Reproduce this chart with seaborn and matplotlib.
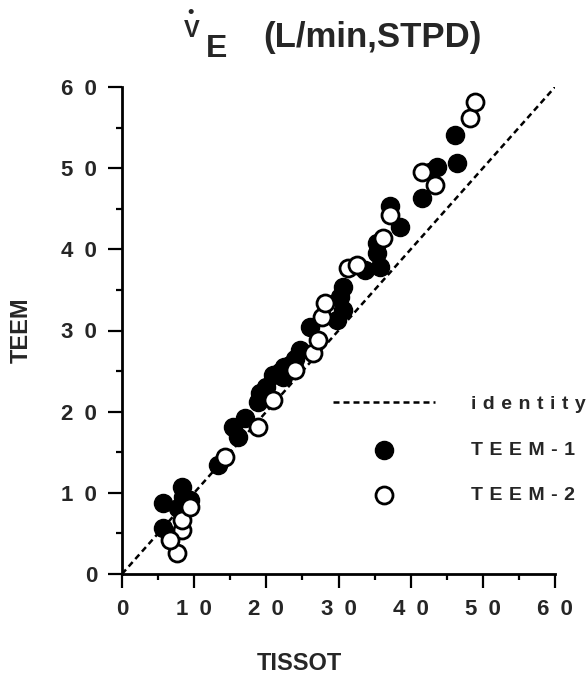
import matplotlib
matplotlib.use("Agg")
import matplotlib.pyplot as plt
import seaborn as sns
import pandas as pd

# values (L/min, STPD)
teem1_x = [5.7, 8.3, 9.4, 7.8, 5.7, 8.5, 13.3, 15.4, 17.0, 16.1, 19.1, 18.8, 20.0,
           20.9, 22.3, 23.3, 21.9, 22.5, 24.0, 24.7, 26.0, 30.6, 30.2, 30.6, 29.8,
           33.7, 35.3, 35.3, 35.7, 37.1, 38.5, 41.6, 42.7, 43.6, 46.1, 46.4]
teem1_y = [8.7, 10.7, 9.1, 8.1, 5.7, 9.5, 13.4, 18.1, 19.2, 16.9, 22.3, 21.2, 23.0,
           24.5, 24.3, 25.7, 24.9, 25.5, 26.5, 27.6, 30.4, 35.3, 34.1, 32.5, 31.3,
           37.4, 40.8, 39.5, 37.8, 45.4, 42.7, 46.3, 49.5, 50.1, 54.1, 50.6]

teem2_x = [7.6, 8.3, 8.3, 9.4, 6.6, 14.3, 18.8, 20.9, 24.0, 26.5, 27.1, 27.7, 28.1,
           31.3, 32.5, 36.1, 37.1, 41.6, 43.4, 48.2, 48.9]
teem2_y = [2.6, 5.4, 6.6, 8.3, 4.2, 14.4, 18.1, 21.4, 25.1, 27.2, 28.8, 31.7, 33.4,
           37.7, 38.1, 41.4, 44.2, 49.5, 47.9, 56.2, 58.1]

identity = [0, 60]
ticks = [0, 10, 20, 30, 40, 50, 60]
SP = "\u2002"   # letter spacing of the tick numbers
SP_LEG = "\u2004"  # tighter spacing for legend labels
tick_labels = [SP.join(str(t)) for t in ticks]

sns.set_theme(style="ticks")
plt.rcParams["font.family"] = ["Liberation Sans", "DejaVu Sans"]

fig = plt.figure(figsize=(5.86, 6.88), dpi=100)
ax = fig.add_axes([122 / 586, 114 / 688, 433 / 586, 487 / 688])

df1 = pd.DataFrame({"x": teem1_x, "y": teem1_y})
df2 = pd.DataFrame({"x": teem2_x, "y": teem2_y})

sns.lineplot(x=identity, y=identity, ax=ax, color="black", lw=1.8,
             linestyle=(0, (2.4, 1.6)), label="identity")
sns.scatterplot(data=df1, x="x", y="y", ax=ax, s=170, color="black",
                edgecolor="black", linewidth=1, label="TEEM-1", clip_on=False, zorder=3)
sns.scatterplot(data=df2, x="x", y="y", ax=ax, s=150, facecolor="white",
                edgecolor="black", linewidth=2, label="TEEM-2", clip_on=False, zorder=3)

ax.set_xlim(0, 60)
ax.set_ylim(0, 60)
ax.set_xticks(ticks)
ax.set_yticks(ticks)
ax.set_xticks([5, 15, 25, 35, 45, 55], minor=True)
ax.set_yticks([5, 15, 25, 35, 45, 55], minor=True)
ax.set_xticklabels(tick_labels, fontsize=16, fontweight="bold")
ax.set_yticklabels(tick_labels, fontsize=16, fontweight="bold")
ax.tick_params(which="major", length=10, width=1.6, color="black", pad=8)
ax.tick_params(which="minor", length=4, width=1.6, color="black")
sns.despine(ax=ax)
for side in ["left", "bottom"]:
    ax.spines[side].set_linewidth(2)
    ax.spines[side].set_color("black")

ax.set_xlabel("TISSOT", fontsize=17, fontweight="bold")
ax.set_ylabel("TEEM", fontsize=17, fontweight="bold")
ax.xaxis.set_label_coords(0.41, -0.16)
ax.yaxis.set_label_coords(-0.205, 0.5)

handles, labels = ax.get_legend_handles_labels()
ax.legend(handles, [SP_LEG.join(l) for l in labels], loc="upper left",
          bbox_to_anchor=(0.464, 0.387), frameon=False, borderpad=0,
          prop={"weight": "bold", "size": 14},
          handlelength=5.25, handletextpad=1.85, labelspacing=1.45, markerscale=1.0)

# title: V with a dot over it, subscript E, then the units
fig.text(192 / 586, 1 - 37 / 688, "V", fontsize=17, fontweight="bold",
         ha="center", va="baseline")
fig.text(191 / 586, 1 - 12 / 688, "\u2022", fontsize=13, fontweight="bold",
         ha="center", va="center")
fig.text(206 / 586, 1 - 57 / 688, "E", fontsize=23, fontweight="bold",
         ha="left", va="baseline")
fig.text(263 / 586, 1 - 47 / 688, "(L/min,STPD)", fontsize=25, fontweight="bold",
         ha="left", va="baseline")

fig.savefig("out.png", dpi=100)
